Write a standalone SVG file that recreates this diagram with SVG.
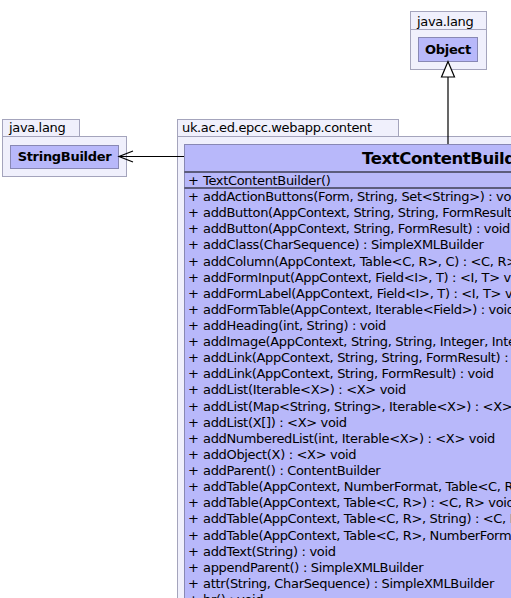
<svg xmlns="http://www.w3.org/2000/svg" width="511" height="598" viewBox="0 0 511 598">
<style>
.pkg{fill:#F0F0FC;stroke:#A4A4BC;stroke-width:1}
.cls{fill:#B8B8FA;stroke:#8888B4;stroke-width:1}
.sep{stroke:#000;stroke-width:1}
.plabel{font-family:"DejaVu Sans",sans-serif;font-size:13px;letter-spacing:-0.35px;fill:#000}
.cname{font-family:"DejaVu Sans",sans-serif;font-size:13px;letter-spacing:-0.3px;font-weight:bold;fill:#000}
.title{font-family:"DejaVu Sans",sans-serif;font-size:16.5px;letter-spacing:-0.4px;font-weight:bold;fill:#000}
.m{font-family:"DejaVu Sans",sans-serif;font-size:13px;letter-spacing:-0.33px;fill:#000}
.edge{stroke:#000;stroke-width:1.2;fill:none}
</style>
<rect x="0" y="0" width="511" height="598" fill="#fff"/>
<g id="pkg-java-lang-object">
<rect class="pkg" x="410.5" y="11.5" width="76" height="18"/>
<rect class="pkg" x="410.5" y="29.5" width="76" height="40"/>
<text class="plabel" x="417" y="25.5">java.lang</text>
</g>
<g id="Object">
<rect class="cls" x="418.5" y="37.5" width="59" height="24"/>
<text class="cname" x="448" y="53.5" text-anchor="middle">Object</text>
</g>
<g id="pkg-java-lang-sb">
<rect class="pkg" x="2.5" y="119.5" width="77" height="17"/>
<rect class="pkg" x="2.5" y="136.5" width="124" height="40"/>
<text class="plabel" x="9" y="131.5">java.lang</text>
</g>
<g id="StringBuilder">
<rect class="cls" x="10.5" y="145.5" width="108" height="23"/>
<text class="cname" x="64.5" y="161" text-anchor="middle">StringBuilder</text>
</g>
<g id="pkg-content">
<rect class="pkg" x="177.5" y="119.5" width="221" height="17"/>
<rect class="pkg" x="177.5" y="136.5" width="350" height="480"/>
<text class="plabel" x="182" y="131.5">uk.ac.ed.epcc.webapp.content</text>
</g>
<g id="TextContentBuilder">
<rect class="cls" x="184.5" y="144.5" width="340" height="470"/>
<line class="sep" x1="184.5" y1="172" x2="524" y2="172"/>
<line class="sep" x1="184.5" y1="188" x2="524" y2="188"/>
<text class="title" x="362" y="164">TextContentBuilder</text>
<text class="m" y="185"><tspan x="188">+</tspan><tspan x="203">TextContentBuilder()</tspan></text>
<g class="m">
<text y="201"><tspan x="188">+</tspan><tspan x="203">addActionButtons(Form, String, Set&lt;String&gt;) : void</tspan></text>
<text y="217.1"><tspan x="188">+</tspan><tspan x="203">addButton(AppContext, String, String, FormResult) : void</tspan></text>
<text y="233.2"><tspan x="188">+</tspan><tspan x="203">addButton(AppContext, String, FormResult) : void</tspan></text>
<text y="249.4"><tspan x="188">+</tspan><tspan x="203">addClass(CharSequence) : SimpleXMLBuilder</tspan></text>
<text y="265.5"><tspan x="188">+</tspan><tspan x="203">addColumn(AppContext, Table&lt;C, R&gt;, C) : &lt;C, R&gt; void</tspan></text>
<text y="281.6"><tspan x="188">+</tspan><tspan x="203">addFormInput(AppContext, Field&lt;I&gt;, T) : &lt;I, T&gt; void</tspan></text>
<text y="297.7"><tspan x="188">+</tspan><tspan x="203">addFormLabel(AppContext, Field&lt;I&gt;, T) : &lt;I, T&gt; void</tspan></text>
<text y="313.8"><tspan x="188">+</tspan><tspan x="203">addFormTable(AppContext, Iterable&lt;Field&gt;) : void</tspan></text>
<text y="330"><tspan x="188">+</tspan><tspan x="203">addHeading(int, String) : void</tspan></text>
<text y="346.1"><tspan x="188">+</tspan><tspan x="203">addImage(AppContext, String, String, Integer, Integer) : void</tspan></text>
<text y="362.2"><tspan x="188">+</tspan><tspan x="203">addLink(AppContext, String, String, FormResult) : void</tspan></text>
<text y="378.3"><tspan x="188">+</tspan><tspan x="203">addLink(AppContext, String, FormResult) : void</tspan></text>
<text y="394.4"><tspan x="188">+</tspan><tspan x="203">addList(Iterable&lt;X&gt;) : &lt;X&gt; void</tspan></text>
<text y="410.6"><tspan x="188">+</tspan><tspan x="203">addList(Map&lt;String, String&gt;, Iterable&lt;X&gt;) : &lt;X&gt; void</tspan></text>
<text y="426.7"><tspan x="188">+</tspan><tspan x="203">addList(X[]) : &lt;X&gt; void</tspan></text>
<text y="442.8"><tspan x="188">+</tspan><tspan x="203">addNumberedList(int, Iterable&lt;X&gt;) : &lt;X&gt; void</tspan></text>
<text y="458.9"><tspan x="188">+</tspan><tspan x="203">addObject(X) : &lt;X&gt; void</tspan></text>
<text y="475"><tspan x="188">+</tspan><tspan x="203">addParent() : ContentBuilder</tspan></text>
<text y="491.2"><tspan x="188">+</tspan><tspan x="203">addTable(AppContext, NumberFormat, Table&lt;C, R&gt;) : &lt;C, R&gt; void</tspan></text>
<text y="507.3"><tspan x="188">+</tspan><tspan x="203">addTable(AppContext, Table&lt;C, R&gt;) : &lt;C, R&gt; void</tspan></text>
<text y="523.4"><tspan x="188">+</tspan><tspan x="203">addTable(AppContext, Table&lt;C, R&gt;, String) : &lt;C, R&gt; void</tspan></text>
<text y="539.5"><tspan x="188">+</tspan><tspan x="203">addTable(AppContext, Table&lt;C, R&gt;, NumberFormat) : &lt;C, R&gt; void</tspan></text>
<text y="555.6"><tspan x="188">+</tspan><tspan x="203">addText(String) : void</tspan></text>
<text y="571.8"><tspan x="188">+</tspan><tspan x="203">appendParent() : SimpleXMLBuilder</tspan></text>
<text y="587.9"><tspan x="188">+</tspan><tspan x="203">attr(String, CharSequence) : SimpleXMLBuilder</tspan></text>
<text y="604"><tspan x="188">+</tspan><tspan x="203">br() : void</tspan></text>
</g>
</g>
<g id="connectors">
<line class="edge" x1="448" y1="77" x2="448" y2="144"/>
<polygon points="448,61.5 441.5,77 454.5,77" fill="#fff" stroke="#000" stroke-width="1.2"/>
<line class="edge" x1="184" y1="156.5" x2="119" y2="156.5"/>
<polyline class="edge" points="133,151 119,156.5 133,162"/>
</g>
</svg>
